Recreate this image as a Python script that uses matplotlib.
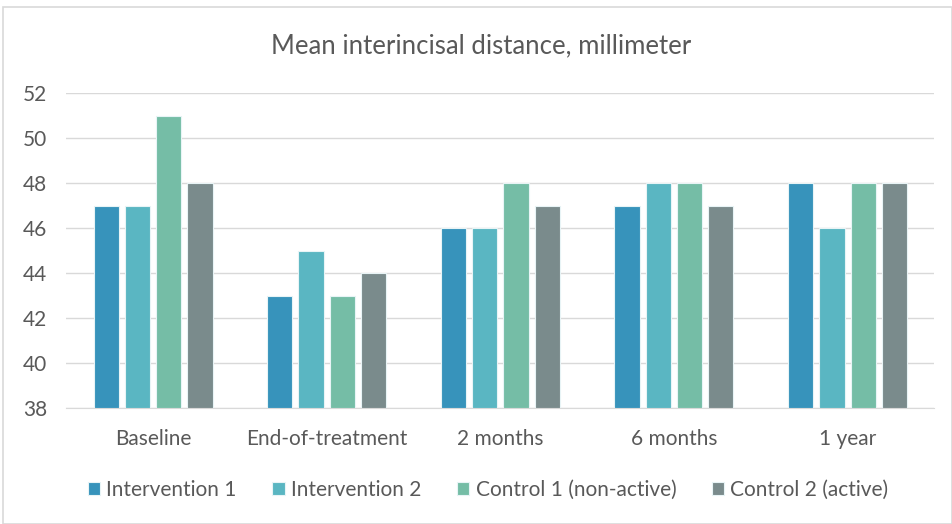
import numpy as np
import matplotlib
matplotlib.use('Agg')
import matplotlib.pyplot as plt
from matplotlib.patches import Rectangle

plt.rcParams['font.family'] = ['Lato', 'DejaVu Sans']

categories = ['Baseline', 'End-of-treatment', '2 months', '6 months', '1 year']
series_names = ['Intervention 1', 'Intervention 2', 'Control 1 (non-active)', 'Control 2 (active)']
intervention1 = [47, 43, 46, 47, 48]
intervention2 = [47, 45, 46, 48, 46]
control1 = [51, 43, 48, 48, 48]
control2 = [48, 44, 47, 47, 48]
colors = ['#3793BB', '#5AB6C2', '#75BDA6', '#7A8B8C']

fig = plt.figure(figsize=(9.53, 5.24), dpi=100)
ax = fig.add_axes([0.0695, 0.221, 0.911, 0.6015])

# chart border
fig.patches.append(Rectangle((0.003, 0.0), 0.996, 0.987, transform=fig.transFigure,
                             fill=False, edgecolor='#D9D9D9', linewidth=1.2))

x = np.arange(len(categories))
w = 0.145
step = 0.18
for i, (vals, name) in enumerate(zip([intervention1, intervention2, control1, control2], series_names)):
    ax.bar(x + (i - 1.5) * step, np.array(vals) - 38, bottom=38, width=w,
           color=colors[i], edgecolor='#E8F4F6', linewidth=0.8, label=name, zorder=3)

ax.set_xlim(-0.5, len(categories) - 0.5)
ax.set_ylim(38, 52)
ax.set_yticks(range(38, 53, 2))
ax.set_xticks(x)
ax.set_xticklabels(categories)
ax.grid(axis='y', color='#D9D9D9', linewidth=1, zorder=0)
for s in ['top', 'right', 'left']:
    ax.spines[s].set_visible(False)
ax.spines['bottom'].set_color('#D9D9D9')
ax.tick_params(axis='both', length=0, labelsize=15, colors='#595959')
ax.tick_params(axis='x', pad=15)
ax.tick_params(axis='y', pad=14)

fig.text(0.505, 0.913, 'Mean interincisal distance, millimeter', ha='center', va='center',
         fontsize=18.5, color='#595959')

ax.legend(loc='center', bbox_to_anchor=(0.486, -0.259), ncol=4, frameon=False,
          fontsize=15, labelcolor='#595959', handlelength=0.6, handleheight=0.6,
          handletextpad=0.3, columnspacing=1.7)

fig.savefig('out.png', dpi=100)
